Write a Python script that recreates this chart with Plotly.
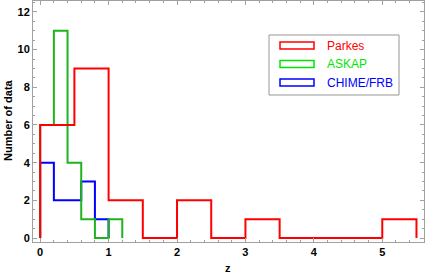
import plotly.graph_objects as go

# ---- data ----
series_names = ["Parkes", "ASKAP", "CHIME/FRB"]
parkes_edges = [0.0, 0.5, 1.0, 1.5, 2.0, 2.5, 3.0, 3.5, 4.0, 4.5, 5.0, 5.5]
parkes_counts = [6, 9, 2, 0, 2, 0, 1, 0, 0, 0, 1]
askap_edges = [0.0, 0.2, 0.4, 0.6, 0.8, 1.0, 1.2]
askap_counts = [6, 11, 4, 1, 0, 1]
chime_edges = [0.0, 0.2, 0.4, 0.6, 0.8, 1.0]
chime_counts = [4, 2, 2, 3, 1]
x_tick_vals = [0, 1, 2, 3, 4, 5]
y_tick_vals = [0, 2, 4, 6, 8, 10, 12]

line_colors = ["rgb(255,0,0)", "rgb(30,180,30)", "rgb(0,0,255)"]
legend_colors = ["rgb(255,0,0)", "rgb(0,230,0)", "rgb(0,0,255)"]

W, H = 425, 274
L, R, T, B = 33, 1, 1, 32
PW, PH = W - L - R, H - T - B


def px(x):
    return (x - L) / PW


def py(y):
    return 1 - (y - T) / PH


def step_outline(edges, counts):
    xs, ys = [edges[0]], [0]
    for i, c in enumerate(counts):
        xs += [edges[i], edges[i + 1]]
        ys += [c, c]
    xs.append(edges[-1])
    ys.append(0)
    return xs, ys


fig = go.Figure()
datasets = [(chime_edges, chime_counts, 2), (askap_edges, askap_counts, 1), (parkes_edges, parkes_counts, 0)]
for edges, counts, idx in datasets:
    xs, ys = step_outline(edges, counts)
    fig.add_trace(go.Scatter(x=xs, y=ys, mode="lines", name=series_names[idx],
                             line=dict(color=line_colors[idx], width=2),
                             showlegend=False, hoverinfo="skip"))

# manual legend
fig.add_shape(type="rect", xref="paper", yref="paper", x0=px(269), x1=px(399), y0=py(95), y1=py(35),
              line=dict(color="rgb(150,150,150)", width=1), fillcolor="white", layer="above")
for i, name in enumerate(series_names):
    yc = 45.5 + i * 18.5
    fig.add_shape(type="rect", xref="paper", yref="paper",
                  x0=px(280), x1=px(314), y0=py(yc + 3.5), y1=py(yc - 3.5),
                  line=dict(color=legend_colors[i], width=1.5), fillcolor="rgba(0,0,0,0)", layer="above")
    fig.add_annotation(xref="paper", yref="paper", x=px(325), y=py(yc),
                       text=name, showarrow=False, xanchor="left", yanchor="middle",
                       font=dict(family="Liberation Sans, Arial", size=12, color=legend_colors[i]))

title_font = dict(family="Liberation Sans, Arial", size=11, color="black", weight="bold")
fig.add_annotation(xref="paper", yref="paper", x=px(228), y=py(268), text="z", showarrow=False,
                   xanchor="center", yanchor="middle", font=title_font)
fig.add_annotation(xref="paper", yref="paper", x=px(8), y=py(120), text="Number of data", showarrow=False,
                   xanchor="center", yanchor="middle", textangle=-90, font=title_font)

axis_common = dict(showline=True, linecolor="rgb(160,160,160)", linewidth=1, mirror="allticks",
                   ticks="inside", ticklen=4, tickcolor="rgb(160,160,160)", tickwidth=1,
                   showgrid=False, zeroline=False, automargin=False,
                   tickfont=dict(family="Liberation Sans, Arial", size=11, color="black", weight="bold"))

fig.update_xaxes(range=[-0.105, 5.61], tickvals=x_tick_vals,
                 minor=dict(dtick=0.2, tick0=0, ticks="inside", ticklen=2, tickcolor="rgb(160,160,160)"),
                 **axis_common)
fig.update_yaxes(range=[-0.21, 12.58], tickvals=y_tick_vals,
                 minor=dict(dtick=0.5, tick0=0, ticks="inside", ticklen=2, tickcolor="rgb(160,160,160)"),
                 **axis_common)

fig.update_layout(width=W, height=H, margin=dict(l=L, r=R, t=T, b=B),
                  plot_bgcolor="white", paper_bgcolor="white", showlegend=False)

fig.write_html("out.html", config={"displayModeBar": False},
               post_script="document.body.style.margin='0';")
